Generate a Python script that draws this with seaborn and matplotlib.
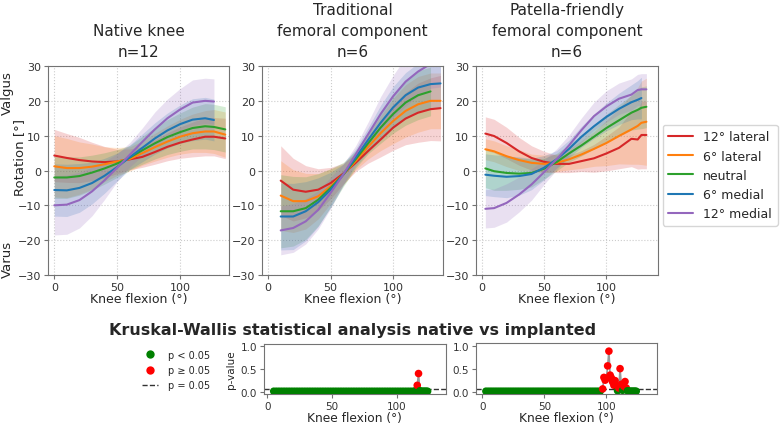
import matplotlib
matplotlib.use('Agg')
import matplotlib.pyplot as plt
from matplotlib.lines import Line2D
import numpy as np
import pandas as pd
import seaborn as sns

# ---- data ----
labels = ['12° lateral', '6° lateral', 'neutral', '6° medial', '12° medial']
colors = ['#d62728', '#ff7f0e', '#2ca02c', '#1f77b4', '#9467bd']

# Native knee, n=12
native_x = [0, 10, 20, 30, 40, 50, 60, 70, 80, 90, 100, 110, 120, 127, 136]
native_mean = {
    '12° lateral': [4.3, 3.6, 3.0, 2.6, 2.4, 2.6, 3.2, 3.9, 5.3, 6.8, 8.0, 8.9, 9.7, 9.7, 9.2],
    '6° lateral': [1.2, 0.7, 0.7, 1.1, 1.8, 2.6, 3.3, 5.0, 6.7, 8.3, 9.7, 10.7, 11.2, 11.2, 10.3],
    'neutral': [-2.0, -2.0, -1.6, -0.6, 0.6, 2.0, 3.7, 5.8, 7.8, 9.6, 11.0, 12.2, 12.7, 12.5, 11.8],
    '6° medial': [-5.6, -5.7, -5.0, -3.6, -1.5, 1.0, 3.8, 6.5, 9.2, 11.5, 13.3, 14.6, 15.0, 14.5, np.nan],
    '12° medial': [-10.0, -9.8, -8.5, -6.0, -2.8, 0.8, 4.5, 8.2, 11.8, 15.0, 17.5, 19.5, 20.0, 19.8, np.nan],
}
native_sd = {
    '12° lateral': [7.5, 7.0, 6.5, 5.5, 4.5, 3.5, 3.0, 3.0, 3.5, 4.0, 4.5, 5.0, 5.5, 5.5, 5.8],
    '6° lateral': [8.8, 8.5, 7.5, 6.5, 5.0, 4.0, 3.5, 3.5, 4.0, 4.5, 5.0, 5.5, 6.0, 6.3, 6.5],
    'neutral': [6.0, 6.0, 5.5, 5.0, 4.5, 4.0, 3.5, 4.0, 4.5, 5.0, 5.5, 6.0, 6.5, 6.5, 6.5],
    '6° medial': [7.5, 7.5, 7.0, 6.0, 5.0, 4.0, 3.5, 4.0, 4.5, 5.0, 5.5, 6.0, 6.0, 6.0, np.nan],
    '12° medial': [8.5, 8.5, 8.0, 7.0, 5.5, 4.0, 3.5, 4.0, 5.0, 5.5, 6.0, 6.5, 6.5, 6.5, np.nan],
}

# Traditional femoral component, n=6
trad_x = [10, 20, 30, 40, 50, 60, 70, 80, 90, 100, 110, 120, 130, 138]
trad_mean = {
    '12° lateral': [-2.9, -5.5, -6.1, -5.5, -3.6, -0.9, 2.2, 5.6, 8.9, 12.3, 14.9, 16.6, 17.6, 17.9],
    '6° lateral': [-7.2, -8.8, -8.8, -7.4, -4.5, -1.2, 2.7, 6.8, 10.7, 14.2, 17.1, 19.0, 20.0, 20.0],
    'neutral': [-11.7, -11.7, -10.8, -8.4, -5.0, -1.2, 3.2, 7.8, 12.3, 16.2, 19.5, 21.6, 22.7, np.nan],
    '6° medial': [-13.2, -13.2, -11.7, -9.1, -5.5, -1.2, 3.7, 8.8, 13.7, 18.1, 21.6, 23.8, 24.8, 25.0],
    '12° medial': [-17.2, -16.5, -14.6, -11.3, -6.4, -1.2, 4.6, 10.4, 16.2, 21.3, 25.5, 28.4, 30.6, 31.0],
}
trad_sd = {
    '12° lateral': [10.0, 9.0, 7.5, 6.0, 4.5, 3.0, 2.5, 3.5, 5.0, 6.5, 7.5, 8.5, 9.0, 9.4],
    '6° lateral': [10.0, 9.0, 8.0, 6.5, 5.0, 3.0, 2.5, 3.5, 5.0, 6.5, 7.5, 8.0, 8.0, 8.0],
    'neutral': [10.5, 10.0, 9.0, 7.5, 5.5, 3.5, 2.5, 3.0, 4.5, 5.5, 6.5, 7.0, 7.0, np.nan],
    '6° medial': [9.6, 9.5, 8.5, 7.0, 5.0, 3.0, 2.5, 3.5, 5.0, 6.0, 6.5, 7.0, 7.0, 7.0],
    '12° medial': [7.0, 7.0, 6.5, 5.5, 4.5, 3.0, 2.5, 3.5, 5.0, 6.0, 7.0, 7.0, 7.0, 7.0],
}

# Patella-friendly femoral component, n=6
pf_x = [3, 10, 20, 30, 40, 50, 60, 70, 80, 90, 100, 110, 120, 125, 128, 132]
pf_mean = {
    '12° lateral': [10.6, 9.9, 7.9, 5.5, 3.6, 2.5, 1.9, 1.9, 2.7, 3.5, 4.9, 6.5, 9.1, 8.9, 10.2, 10.2],
    '6° lateral': [6.1, 5.5, 4.1, 3.0, 2.2, 1.9, 2.2, 3.2, 4.6, 6.2, 7.9, 9.9, 11.8, 12.8, 13.7, 14.0],
    'neutral': [0.6, -0.2, -0.7, -0.9, -0.7, 0.5, 2.4, 4.9, 7.2, 9.7, 12.2, 14.4, 16.6, 17.4, 18.0, 18.3],
    '6° medial': [-1.2, -1.5, -1.8, -1.6, -1.0, 0.8, 3.2, 6.2, 9.7, 12.7, 15.4, 17.7, 19.6, 20.3, 20.8, np.nan],
    '12° medial': [-11.0, -10.8, -9.3, -6.9, -4.0, -0.5, 3.2, 7.2, 11.6, 15.6, 18.4, 20.6, 21.8, 23.1, 23.3, 23.3],
}
pf_sd = {
    '12° lateral': [4.8, 4.8, 4.5, 4.0, 3.5, 3.0, 2.5, 2.5, 3.0, 4.0, 5.0, 6.0, 8.0, 8.5, 9.7, 9.7],
    '6° lateral': [3.0, 3.0, 3.0, 3.0, 2.5, 2.5, 2.5, 3.0, 4.0, 5.0, 6.5, 8.0, 10.0, 11.0, 12.0, 12.5],
    'neutral': [5.5, 5.5, 5.0, 4.5, 4.0, 3.0, 2.5, 2.5, 3.0, 3.5, 4.0, 4.5, 5.0, 5.5, 6.0, 6.0],
    '6° medial': [6.0, 6.0, 6.0, 5.5, 4.5, 3.5, 2.5, 2.5, 3.0, 3.5, 4.0, 4.5, 5.0, 5.5, 6.0, np.nan],
    '12° medial': [5.5, 5.5, 5.5, 5.0, 4.5, 3.5, 3.0, 3.0, 3.5, 4.0, 4.5, 4.5, 4.5, 4.5, 4.5, 4.5],
}

# Kruskal-Wallis p-values, native vs traditional
kw_trad_x = [5, 7, 9, 11, 13, 15, 17, 19, 21, 23, 25, 27, 29, 31, 33, 35, 37, 39, 41, 43, 45,
             47, 49, 51, 53, 55, 57, 59, 61, 63, 65, 67, 69, 71, 73, 75, 77, 79, 81, 83, 85,
             87, 89, 91, 93, 95, 97, 99, 101, 103, 105, 107, 109, 111, 113, 114, 115, 116,
             117, 118, 119, 120, 121, 122, 123, 124]
kw_trad_p = [0.01, 0.01, 0.01, 0.01, 0.01, 0.01, 0.01, 0.01, 0.01, 0.01, 0.01, 0.01, 0.01,
             0.01, 0.01, 0.01, 0.01, 0.01, 0.01, 0.01, 0.01, 0.01, 0.01, 0.01, 0.01, 0.01,
             0.01, 0.01, 0.01, 0.01, 0.01, 0.01, 0.01, 0.01, 0.01, 0.01, 0.01, 0.01, 0.01,
             0.01, 0.01, 0.01, 0.01, 0.01, 0.01, 0.01, 0.01, 0.01, 0.01, 0.01, 0.01, 0.01,
             0.01, 0.01, 0.01, 0.01, 0.02, 0.14, 0.40, 0.02, 0.01, 0.01, 0.01, 0.01, 0.01, 0.01]

# Kruskal-Wallis p-values, native vs patella-friendly
kw_pf_x = [3, 5, 7, 9, 11, 13, 15, 17, 19, 21, 23, 25, 27, 29, 31, 33, 35, 37, 39, 41, 43,
           45, 47, 49, 51, 53, 55, 57, 59, 61, 63, 65, 67, 69, 71, 73, 75, 77, 79, 81, 83,
           85, 87, 89, 91, 93, 95, 97, 98, 99, 100, 101, 102, 103, 104, 105, 106, 107, 108,
           109, 110, 111, 112, 113, 114, 115, 116, 117, 118, 119, 120, 121, 122, 123, 124]
kw_pf_p = [0.01, 0.01, 0.01, 0.01, 0.01, 0.01, 0.01, 0.01, 0.01, 0.01, 0.01, 0.01, 0.01,
           0.01, 0.01, 0.01, 0.01, 0.01, 0.01, 0.01, 0.01, 0.01, 0.01, 0.01, 0.01, 0.01,
           0.01, 0.01, 0.01, 0.01, 0.01, 0.01, 0.01, 0.01, 0.01, 0.01, 0.01, 0.01, 0.01,
           0.01, 0.01, 0.01, 0.01, 0.01, 0.01, 0.01, 0.01, 0.06, 0.31, 0.25, 0.29, 0.56,
           0.88, 0.36, 0.30, 0.21, 0.14, 0.24, 0.12, 0.02, 0.08, 0.50, 0.16, 0.03, 0.12,
           0.22, 0.08, 0.02, 0.01, 0.01, 0.01, 0.01, 0.01, 0.01, 0.01]

panels = [
    ('Native knee\nn=12', native_x, native_mean, native_sd, (-5, 139)),
    ('Traditional\nfemoral component\nn=6', trad_x, trad_mean, trad_sd, (-5, 140)),
    ('Patella-friendly\nfemoral component\nn=6', pf_x, pf_mean, pf_sd, (-4.5, 141)),
]
top_pos = [[0.0613, 0.3536, 0.2312, 0.4895],
           [0.3346, 0.3536, 0.2312, 0.4895],
           [0.6079, 0.3536, 0.2320, 0.4895]]

sns.set_style('ticks')
plt.rcParams['font.family'] = ['DejaVu Sans']

fig = plt.figure(figsize=(7.83, 4.27), dpi=100)


def style_axes(ax, tick_size):
    for s in ax.spines.values():
        s.set_color('0.45')
        s.set_linewidth(0.8)
    ax.tick_params(labelsize=tick_size, colors='0.2', length=3, width=0.8, pad=2)
    ax.tick_params(color='0.45')


for (title, x, means, sds, xlim), pos in zip(panels, top_pos):
    ax = fig.add_axes(pos)
    for lab, col in zip(labels, colors):
        m = np.array(means[lab], dtype=float)
        s = np.array(sds[lab], dtype=float)
        ax.fill_between(x, m - s, m + s, color=col, alpha=0.2, lw=0)
        sns.lineplot(x=x, y=m, color=col, lw=1.5, ax=ax, label=lab, legend=False)
    ax.set_xlim(*xlim)
    ax.set_ylim(-30, 30)
    ax.set_xticks([0, 50, 100])
    ax.set_yticks([-30, -20, -10, 0, 10, 20, 30])
    ax.grid(True, ls=':', lw=0.8, color='0.8')
    ax.set_title(title, fontsize=11, linespacing=1.5, pad=7)
    ax.set_xlabel('Knee flexion (°)', fontsize=9, labelpad=0)
    ax.set_ylabel('')
    style_axes(ax, 8)

handles = [Line2D([0], [0], color=c, lw=1.5) for c in colors]
fig.legend(handles, labels, loc='center left', bbox_to_anchor=(0.843, 0.587),
           fontsize=9, handlelength=2.0, labelspacing=0.5, borderpad=0.45,
           handletextpad=0.8, borderaxespad=0.2,
           frameon=True, edgecolor='0.8', fancybox=True)

fig.text(0.0255, 0.632, 'Rotation [°]', rotation=90, ha='center', va='center', fontsize=9.5)
fig.text(0.010, 0.782, 'Valgus', rotation=90, ha='center', va='center', fontsize=9.5)
fig.text(0.010, 0.393, 'Varus', rotation=90, ha='center', va='center', fontsize=9.5)

# ---- bottom statistics ----
fig.text(0.45, 0.227, 'Kruskal-Wallis statistical analysis native vs implanted',
         ha='center', va='center', fontsize=11.5, fontweight='bold')

bottom = [(kw_trad_x, kw_trad_p, [0.3372, 0.0750, 0.2320, 0.1170], (-2.5, 138), True),
          (kw_pf_x, kw_pf_p, [0.6079, 0.0750, 0.2316, 0.1186], (-5, 141), False)]
for x, p, pos, xlim, show_ylabel in bottom:
    ax = fig.add_axes(pos)
    df = pd.DataFrame({'x': x, 'p': p})
    df['sig'] = np.where(df['p'] < 0.05, 'low', 'high')
    sns.lineplot(data=df, x='x', y='p', color='0.6', lw=1.2, ax=ax, zorder=1)
    sns.scatterplot(data=df, x='x', y='p', hue='sig', palette={'low': 'green', 'high': 'red'},
                    s=30, edgecolor='none', legend=False, ax=ax, zorder=3)
    ax.axhline(0.05, color='0.2', ls='--', lw=1, zorder=2)
    ax.set_xlim(*xlim)
    ax.set_ylim(-0.05, 1.05)
    ax.set_xticks([0, 50, 100])
    ax.set_yticks([0.0, 0.5, 1.0])
    ax.set_xlabel('Knee flexion (°)', fontsize=8.8, labelpad=0)
    ax.set_ylabel('p-value' if show_ylabel else '', fontsize=7.5, labelpad=3)
    style_axes(ax, 7.5)

p_handles = [Line2D([0], [0], marker='o', color='none', markerfacecolor='green',
                    markeredgecolor='none', markersize=6),
             Line2D([0], [0], marker='o', color='none', markerfacecolor='red',
                    markeredgecolor='none', markersize=6),
             Line2D([0], [0], color='0.2', ls='--', lw=1)]
fig.legend(p_handles, ['p < 0.05', 'p ≥ 0.05', 'p = 0.05'], loc='center',
           bbox_to_anchor=(0.225, 0.131), frameon=False, fontsize=7,
           handlelength=1.6, labelspacing=0.55, handletextpad=1.0)

fig.savefig('out.png', dpi=100)
